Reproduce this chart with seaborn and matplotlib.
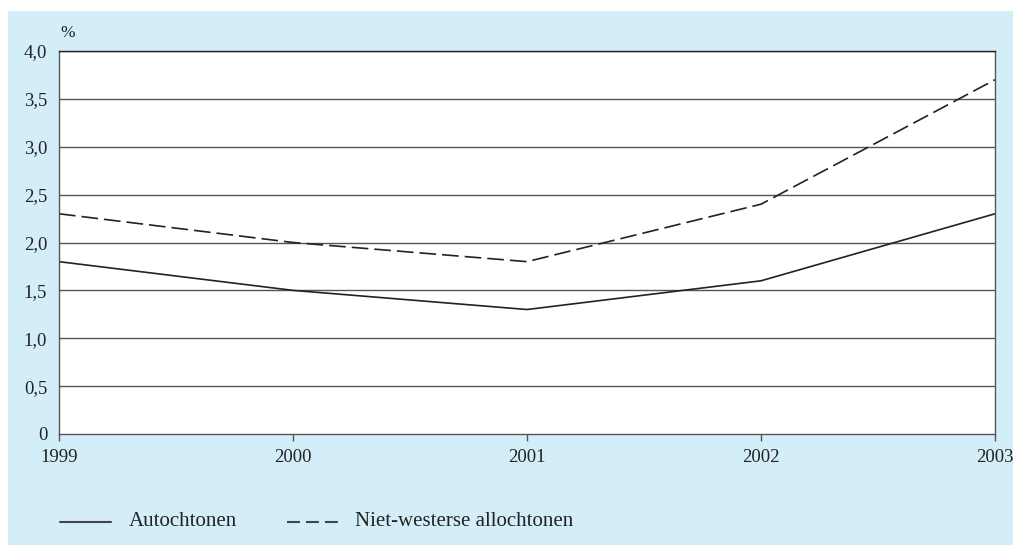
import pandas as pd
import matplotlib.pyplot as plt
import seaborn as sns
from matplotlib.patches import Rectangle

sns.set_style("white")
plt.rcParams["font.family"] = ["Liberation Serif", "DejaVu Serif"]

# Data
years = [1999, 2000, 2001, 2002, 2003]
autochtonen = [1.8, 1.5, 1.3, 1.6, 2.3]
niet_westers = [2.3, 2.0, 1.8, 2.4, 3.7]
series_names = ["Autochtonen", "Niet-westerse allochtonen"]
y_ticks = [0, 0.5, 1.0, 1.5, 2.0, 2.5, 3.0, 3.5, 4.0]

df = pd.DataFrame({
    "jaar": years * 2,
    "waarde": autochtonen + niet_westers,
    "groep": [series_names[0]] * len(years) + [series_names[1]] * len(years),
})

fig = plt.figure(figsize=(10.13, 5.45), dpi=100)
fig.patch.set_facecolor("white")
# light blue panel behind everything
fig.patches.append(Rectangle((8 / 1013, 0), 1 - 8 / 1013, 1 - 11 / 545,
                             transform=fig.transFigure, facecolor="#d4eef9",
                             edgecolor="none", zorder=-1))

ax = fig.add_axes([59 / 1013, 1 - 434 / 545, (995 - 59) / 1013, (434 - 51) / 545])
ax.set_facecolor("white")

sns.lineplot(data=df, x="jaar", y="waarde", style="groep",
             dashes={series_names[0]: "", series_names[1]: (10, 3.6)},
             color="#222222", linewidth=1.2, legend=False, ax=ax)

ax.set_xlim(years[0], years[-1])
ax.set_ylim(0, 4.0)
ax.set_xticks(years)
ax.set_xticklabels([str(y) for y in years])
ax.set_yticks(y_ticks)
ax.set_yticklabels([("0" if v == 0 else f"{v:.1f}".replace(".", ",")) for v in y_ticks])
ax.set_xlabel("")
ax.set_ylabel("")

for v in y_ticks[1:]:
    ax.axhline(v, color="#555555", linewidth=1.0, zorder=0)

for side in ["left", "bottom", "right", "top"]:
    ax.spines[side].set_visible(True)
    ax.spines[side].set_color("#555555")
    ax.spines[side].set_linewidth(1.0)
ax.spines["top"].set_color("#222222")

ax.tick_params(axis="x", direction="out", length=5, width=1, color="#555555",
               labelsize=13.5, pad=6, bottom=True)
ax.tick_params(axis="y", length=0, labelsize=13.5, pad=8.5, left=False)
for lbl in ax.get_xticklabels() + ax.get_yticklabels():
    lbl.set_color("#222222")

fig.text(60 / 1013, 1 - 33 / 545, "%", fontsize=12.5, color="#222222", va="center")

# legend drawn at the bottom
fig.add_artist(plt.Line2D([60 / 1013, 111 / 1013], [1 - 522 / 545] * 2,
                          color="#444444", linewidth=1.5, transform=fig.transFigure))
fig.text(129 / 1013, 1 - 522 / 545, series_names[0], fontsize=15, color="#222222", va="center")
fig.add_artist(plt.Line2D([287 / 1013, 341 / 1013], [1 - 522 / 545] * 2,
                          color="#444444", linewidth=1.5, linestyle=(0, (6.2, 2.9)),
                          transform=fig.transFigure))
fig.text(355 / 1013, 1 - 522 / 545, series_names[1], fontsize=15, color="#222222", va="center")

plt.savefig("out.png", dpi=100, facecolor=fig.get_facecolor())
